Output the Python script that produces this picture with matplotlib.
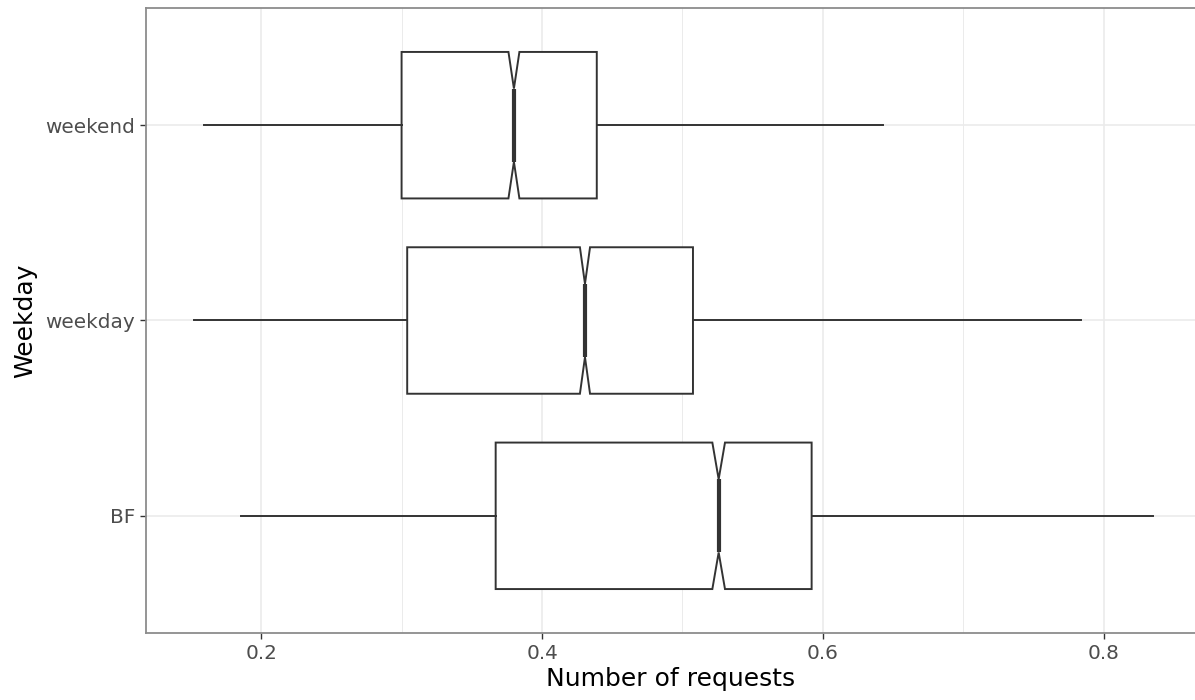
import matplotlib
matplotlib.use('Agg')
import matplotlib.pyplot as plt
from matplotlib.ticker import MultipleLocator

# values
categories = ['BF', 'weekday', 'weekend']
whislo = [0.186, 0.152, 0.159]
q1 = [0.367, 0.304, 0.300]
med = [0.5258, 0.4306, 0.380]
q3 = [0.592, 0.5075, 0.439]
whishi = [0.835, 0.7836, 0.643]
notch_half = [0.0045, 0.0036, 0.0039]

stats = []
for i in range(len(categories)):
    stats.append({
        'label': categories[i],
        'whislo': whislo[i], 'q1': q1[i], 'med': med[i],
        'q3': q3[i], 'whishi': whishi[i],
        'cilo': med[i] - notch_half[i], 'cihi': med[i] + notch_half[i],
        'fliers': [],
    })

line_col = '#333333'
grid_col = '#ebebeb'

fig = plt.figure(figsize=(11.95, 7), dpi=100)
ax = fig.add_axes([146 / 1195, 1 - 633 / 700, 1 - 146 / 1195, (633 - 8) / 700])

ax.bxp(stats, positions=[1, 2, 3], widths=0.75, vert=False, shownotches=True,
       showcaps=False, showfliers=False, patch_artist=True,
       boxprops=dict(facecolor='white', edgecolor=line_col, linewidth=1.4),
       whiskerprops=dict(color=line_col, linewidth=1.4),
       medianprops=dict(color=line_col, linewidth=3.0, solid_capstyle='butt'))

ax.set_xlim(0.118, 0.865)
ax.set_ylim(0.4, 3.6)
ax.xaxis.set_minor_locator(MultipleLocator(0.1))
ax.set_xticks([0.2, 0.4, 0.6, 0.8])
ax.set_xticklabels(['0.2', '0.4', '0.6', '0.8'])
ax.set_yticks([1, 2, 3])
ax.set_yticklabels(categories)

ax.grid(which='major', color=grid_col, linewidth=1.2)
ax.grid(which='minor', axis='x', color=grid_col, linewidth=0.7)
ax.set_axisbelow(True)

ax.tick_params(which='major', length=4, width=1, color=line_col,
               labelcolor='#4d4d4d', labelsize=14.4, pad=4)
ax.tick_params(which='minor', length=0)

for side in ['left', 'top', 'bottom']:
    ax.spines[side].set_color('#8c8c8c')
    ax.spines[side].set_linewidth(1.3)
ax.spines['right'].set_visible(False)

ax.set_xlabel('Number of requests', fontsize=18, color='black', labelpad=3)
ax.set_ylabel('Weekday', fontsize=18, color='black', labelpad=6)

fig.savefig('out.png', dpi=100)
